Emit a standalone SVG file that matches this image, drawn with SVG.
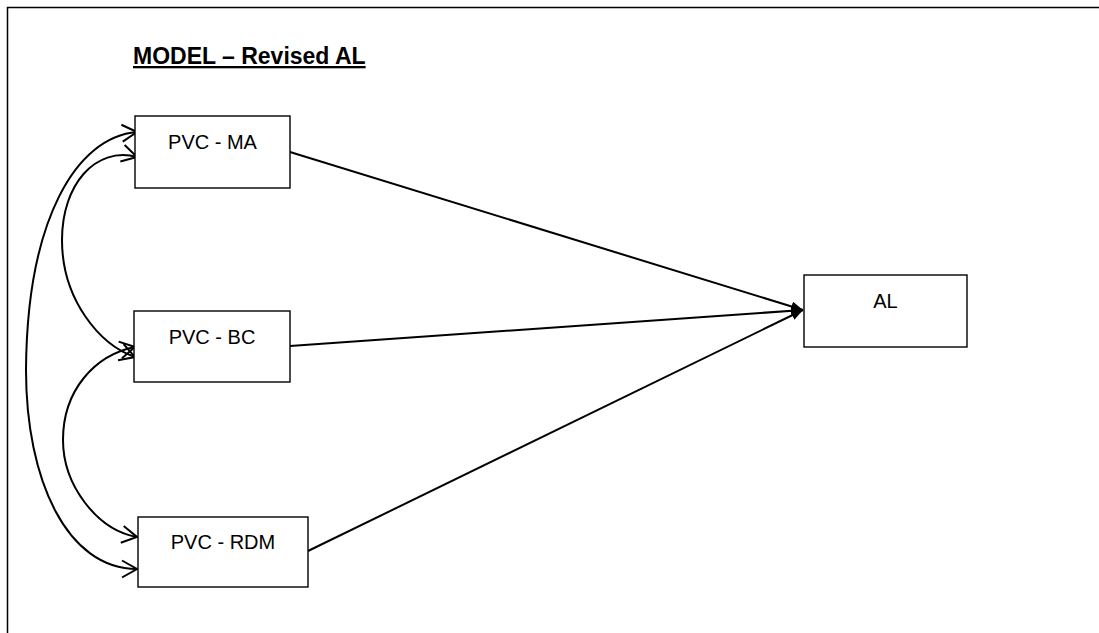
<svg xmlns="http://www.w3.org/2000/svg" width="1099" height="633" viewBox="0 0 1099 633">
  <defs>
    <style>
      .frame { fill: none; stroke: #000; stroke-width: 1.5; }
      .box { fill: #fff; stroke: #000; stroke-width: 1.4; }
      .label { font-family: "Liberation Sans", Arial, sans-serif; font-size: 20px; fill: #000; text-anchor: middle; }
      .title { font-family: "Liberation Sans", Arial, sans-serif; font-size: 23px; font-weight: bold; fill: #000; text-decoration: underline; }
      .path { fill: none; stroke: #000; stroke-width: 2; marker-end: url(#solid); }
      .cov { fill: none; stroke: #000; stroke-width: 2; marker-start: url(#open); marker-end: url(#open); }
    </style>
    <!-- filled head for directed paths -->
    <marker id="solid" viewBox="0 0 12 10" refX="12" refY="5" markerWidth="12" markerHeight="10" markerUnits="userSpaceOnUse" orient="auto">
      <path d="M0,0 L12,5 L0,10 Z" fill="#000"/>
    </marker>
    <!-- open chevron for covariance curves -->
    <marker id="open" viewBox="-17 -10 19 20" refX="0" refY="0" markerWidth="19" markerHeight="20" markerUnits="userSpaceOnUse" orient="auto-start-reverse">
      <path d="M-15,-8.5 L0,0 L-15,8.5" fill="none" stroke="#000" stroke-width="2" stroke-linejoin="miter"/>
    </marker>
  </defs>

  <rect width="1099" height="633" fill="#fff"/>

  <!-- page frame (open at right and bottom) -->
  <path class="frame" d="M7.5,640 V7.5 H1110"/>

  <text class="title" x="133" y="64">MODEL – Revised AL</text>

  <g id="connectors">
    <!-- directed paths into AL -->
    <line class="path" x1="290" y1="152" x2="803" y2="310"/>
    <line class="path" x1="290" y1="346" x2="803" y2="310"/>
    <line class="path" x1="308" y1="551" x2="803" y2="310"/>
    <!-- covariances -->
    <path class="cov" d="M137,132 C76,137 27,220 26,370 C26,480 67,569 137,569"/>
    <path class="cov" d="M137,157 C95,146 62,185 62,240 C62,300 100,345 135,357"/>
    <path class="cov" d="M135,347 C95,355 63,390 63,440 C63,485 97,530 137,537"/>
  </g>

  <g id="node-ma">
    <rect class="box" x="135" y="116" width="155" height="72"/>
    <text class="label" x="212.5" y="149">PVC - MA</text>
  </g>
  <g id="node-bc">
    <rect class="box" x="134" y="311" width="156" height="71"/>
    <text class="label" x="212" y="344">PVC - BC</text>
  </g>
  <g id="node-rdm">
    <rect class="box" x="138" y="517" width="170" height="70"/>
    <text class="label" x="223" y="549">PVC - RDM</text>
  </g>
  <g id="node-al">
    <rect class="box" x="804" y="275" width="163" height="72"/>
    <text class="label" x="885.5" y="308">AL</text>
  </g>
</svg>
